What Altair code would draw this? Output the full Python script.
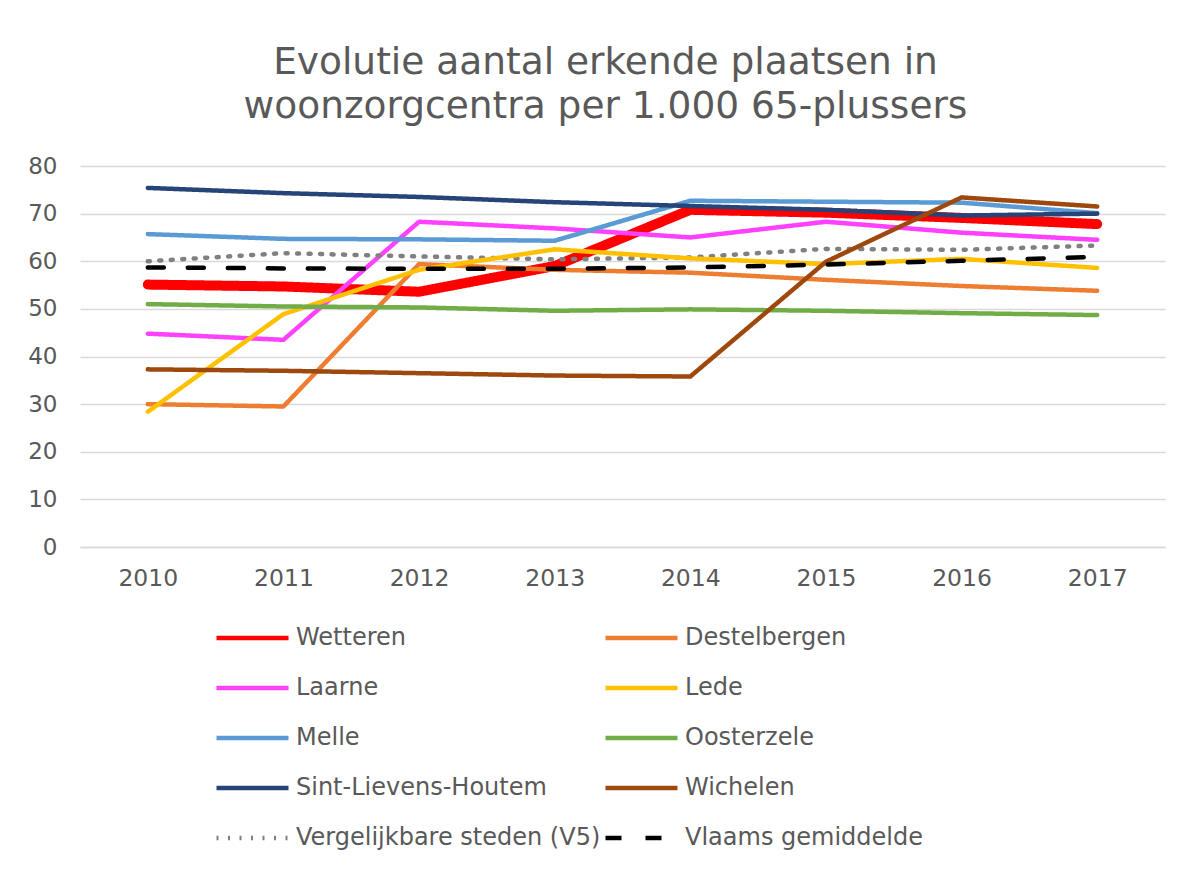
import altair as alt
import pandas as pd

years = [2010, 2011, 2012, 2013, 2014, 2015, 2016, 2017]

# Order used for the legend (legend fills column by column: left column first)
series_names = [
    "Wetteren", "Laarne", "Melle", "Sint-Lievens-Houtem", "Vergelijkbare steden (V5)",
    "Destelbergen", "Lede", "Oosterzele", "Wichelen", "Vlaams gemiddelde",
]

wetteren = [55.1, 54.7, 53.6, 59.0, 70.8, 70.2, 69.1, 67.8]
laarne = [44.8, 43.5, 68.3, 66.9, 65.0, 68.3, 66.0, 64.5]
melle = [65.7, 64.7, 64.6, 64.3, 72.7, 72.5, 72.3, 70.1]
sint_lievens_houtem = [75.4, 74.3, 73.5, 72.4, 71.6, 70.8, 69.6, 70.0]
v5 = [60.0, 61.7, 61.0, 60.4, 60.8, 62.6, 62.4, 63.3]
destelbergen = [30.0, 29.5, 59.4, 58.2, 57.6, 56.1, 54.8, 53.8]
lede = [28.4, 48.9, 58.2, 62.5, 60.6, 59.4, 60.5, 58.6]
oosterzele = [51.0, 50.5, 50.3, 49.6, 49.9, 49.6, 49.1, 48.7]
wichelen = [37.3, 37.0, 36.5, 36.0, 35.8, 59.9, 73.4, 71.5]
vlaams = [58.7, 58.5, 58.4, 58.4, 58.7, 59.3, 60.1, 60.9]

all_values = [wetteren, laarne, melle, sint_lievens_houtem, v5,
              destelbergen, lede, oosterzele, wichelen, vlaams]

colors = ["#FF0000", "#FF40FF", "#5B9BD5", "#264478", "#808080",
          "#ED7D31", "#FFC000", "#70AD47", "#9E480E", "#000000"]
dashes = [[1, 0], [1, 0], [1, 0], [1, 0], [2, 9.5],
          [1, 0], [1, 0], [1, 0], [1, 0], [16, 24]]

rows = []
for name, vals in zip(series_names, all_values):
    for yr, v in zip(years, vals):
        rows.append({"Jaar": str(yr), "Reeks": name, "Waarde": v})
df = pd.DataFrame(rows)

FONT = "DejaVu Sans"
GREY_TXT = "#595959"

legend = alt.Legend(
    title=None, orient="none", legendX=134, legendY=448, columns=2,
    columnPadding=2, rowPadding=2, clipHeight=48, symbolType="stroke", symbolSize=5184,
    symbolStrokeWidth=4.5,
    labelFont=FONT, labelFontSize=24, labelColor=GREY_TXT, labelOffset=5,
    labelLimit=500, symbolOpacity=1,
)

chart = alt.Chart(df).mark_line(strokeCap="round", strokeJoin="round").encode(
    x=alt.X("Jaar:O", sort=[str(y) for y in years],
            axis=alt.Axis(title=None, labelAngle=0, ticks=False, domain=True,
                          domainColor="#d9d9d9", domainWidth=1.3,
                          labelFont=FONT, labelFontSize=23.5, labelColor=GREY_TXT,
                          labelPadding=19)),
    y=alt.Y("Waarde:Q", scale=alt.Scale(domain=[0, 80], nice=False),
            axis=alt.Axis(title=None, values=list(range(0, 81, 10)), ticks=False,
                          domain=False, gridColor="#d9d9d9", gridWidth=1.3,
                          labelFont=FONT, labelFontSize=23, labelColor=GREY_TXT,
                          labelPadding=23)),
    color=alt.Color("Reeks:N", sort=series_names,
                    scale=alt.Scale(domain=series_names, range=colors), legend=legend),
    strokeDash=alt.StrokeDash("Reeks:N", sort=series_names,
                              scale=alt.Scale(domain=series_names, range=dashes), legend=legend),
    strokeWidth=alt.condition(alt.datum.Reeks == "Wetteren", alt.value(10), alt.value(4.5)),
).properties(
    width=1085, height=381,
    title=alt.TitleParams(
        text=["Evolutie aantal erkende plaatsen in", "woonzorgcentra per 1.000 65-plussers"],
        font=FONT, fontSize=37.5, fontWeight="normal", color=GREY_TXT,
        anchor="middle", dx=-17, offset=30, lineHeight=44,
    ),
    autosize=alt.AutoSizeParams(type="none"),
    padding={"left": 72, "top": 158, "right": 14, "bottom": 315},
).configure_view(stroke=None)

chart.save("out.html", embed_options={"renderer": "svg", "actions": False})
